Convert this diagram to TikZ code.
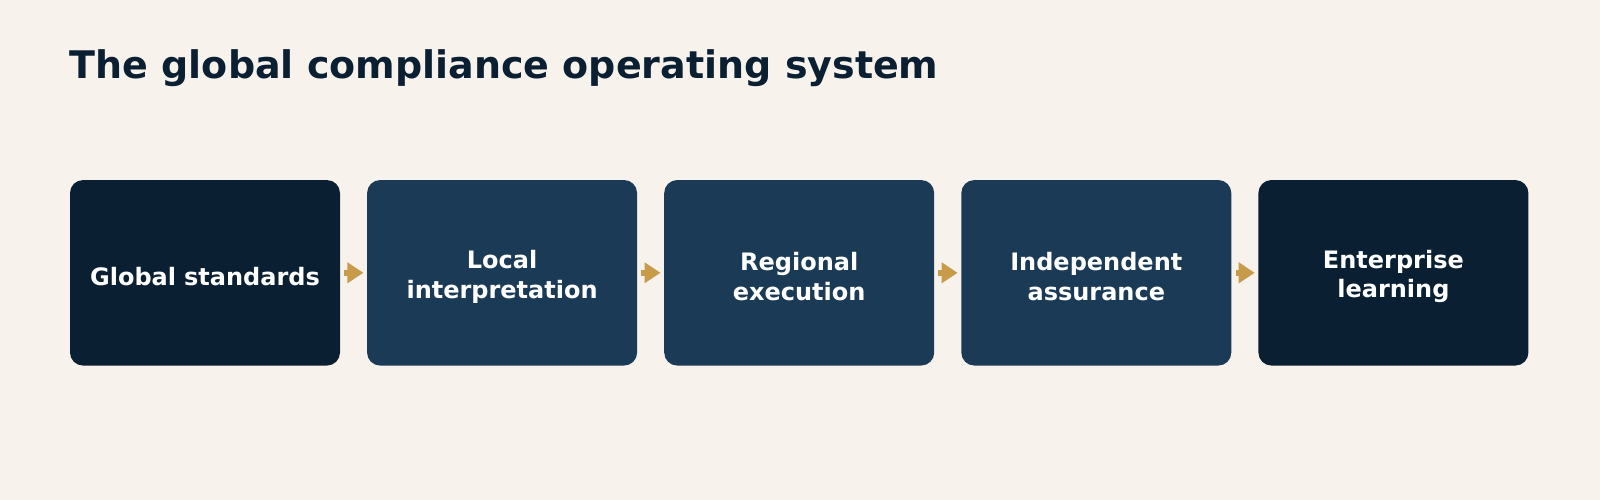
\documentclass[tikz,border=0pt]{standalone}
\usepackage{fontspec}
\setmainfont{DejaVu Sans}
\usetikzlibrary{arrows.meta, positioning}
\definecolor{pagebg}{HTML}{F7F3EC}
\definecolor{navydark}{HTML}{0B1F33}
\definecolor{navymid}{HTML}{1A3A56}
\definecolor{goldarrow}{HTML}{C89B4A}

\begin{document}
\begin{tikzpicture}[
    x=1pt, y=-1pt,
    node distance=26.7pt,
    stage/.style={rectangle, rounded corners=13pt, fill=navymid, text=white, minimum width=270pt, minimum height=185.5pt, text width=260pt, align=center, inner sep=0pt, font=\bfseries\fontsize{24}{29.4}\selectfont, execute at begin node={\rule{0pt}{26pt}}},
    endstage/.style={stage, fill=navydark},
    flow/.style={-{Triangle[length=16pt, width=20pt]}, line width=5.5pt, goldarrow, shorten <=4pt, shorten >=3.5pt}
]
\fill[pagebg] (0,0) rectangle (1600,500);
\useasboundingbox (0,0) rectangle (1600,500);

\node[anchor=base west, text=navydark, inner sep=0pt, font=\bfseries\fontsize{38}{46}\selectfont] (title) at (69.5,78.3) {The global compliance operating system};

\node[endstage] (standards) at (205,272.8) {Global standards};
\node[stage, right=of standards] (interpret) {Local\\interpretation};
\node[stage, right=of interpret] (execution) {Regional\\execution};
\node[stage, right=of execution] (assurance) {Independent\\assurance};
\node[endstage, right=of assurance] (learning) {Enterprise\\learning};

\draw[flow] (standards) -- (interpret);
\draw[flow] (interpret) -- (execution);
\draw[flow] (execution) -- (assurance);
\draw[flow] (assurance) -- (learning);
\end{tikzpicture}
\end{document}
